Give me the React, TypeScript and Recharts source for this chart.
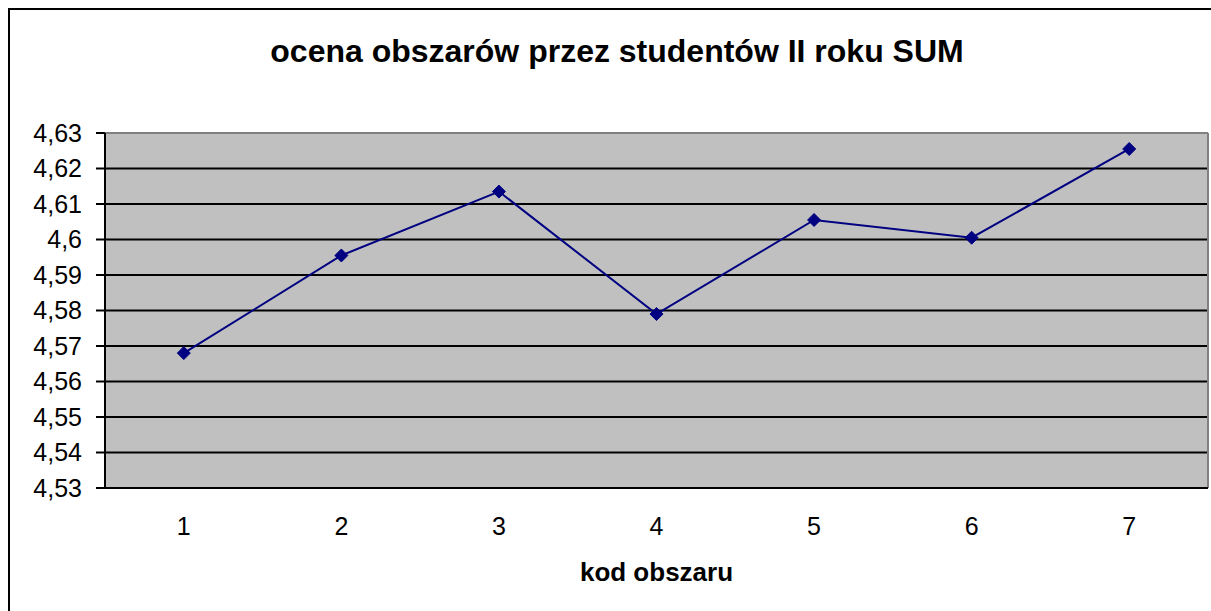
import React from 'react';
import { LineChart, Line, XAxis, YAxis, CartesianGrid } from 'recharts';

const chartTitle = 'ocena obszarów przez studentów II roku SUM';
const xAxisTitle = 'kod obszaru';
const areaCodes = [1, 2, 3, 4, 5, 6, 7];
const scores = [4.568, 4.5955, 4.6135, 4.579, 4.6055, 4.6005, 4.6255];
const yTicks = [4.53, 4.54, 4.55, 4.56, 4.57, 4.58, 4.59, 4.6, 4.61, 4.62, 4.63];
const gridValues = [4.54, 4.55, 4.56, 4.57, 4.58, 4.59, 4.6, 4.61, 4.62];
const boundaryTicks = [0.5, 1.5, 2.5, 3.5, 4.5, 5.5, 6.5, 7.5];

const data = areaCodes.map((kod, i) => ({ kod, ocena: scores[i] }));

const FONT = '"Liberation Sans", Arial, sans-serif';
const fmt = (v: number) => String(v).replace('.', ',');

const Diamond = (props: any) => {
  const { cx, cy } = props;
  if (cx == null || cy == null) return null;
  const r = 6.5;
  return (
    <polygon
      points={`${cx},${cy - r} ${cx + r},${cy} ${cx},${cy + r} ${cx - r},${cy}`}
      fill="#000080"
      stroke="#000080"
      strokeWidth={1}
    />
  );
};

export default function App() {
  return (
    <div style={{ position: 'absolute', left: 0, top: 0, width: 1211, height: 611, overflow: 'hidden', background: '#fff' }}>
      <div
        style={{
          position: 'absolute',
          left: 8,
          top: 8,
          width: 1230,
          height: 630,
          border: '2px solid #000',
          boxSizing: 'border-box',
        }}
      />
      <div style={{ position: 'absolute', left: 0, top: 0 }}>
        <LineChart
          width={1211}
          height={611}
          data={data}
          margin={{ top: 133, right: 3, bottom: 0, left: 0 }}
          style={{ fontFamily: FONT }}
        >
          <CartesianGrid
            xAxisId="main"
            vertical={false}
            horizontalValues={gridValues}
            stroke="#000"
            strokeWidth={2}
            fill="#C0C0C0"
            fillOpacity={1}
          />
          <CartesianGrid
            xAxisId="main"
            horizontalValues={[4.63]}
            verticalValues={[7.5]}
            stroke="#808080"
            strokeWidth={2}
          />
          <XAxis
            xAxisId="b"
            type="number"
            dataKey="kod"
            domain={[0.5, 7.5]}
            ticks={boundaryTicks}
            interval={0}
            tick={false}
            tickLine={{ stroke: '#000', strokeWidth: 2 }}
            tickSize={9}
            axisLine={false}
            height={0}
          />
          <XAxis
            xAxisId="main"
            type="number"
            dataKey="kod"
            domain={[0.5, 7.5]}
            ticks={areaCodes}
            interval={0}
            tickLine={false}
            tickSize={0}
            tickMargin={29}
            axisLine={{ stroke: '#000', strokeWidth: 2 }}
            tick={{ fontSize: 25, fill: '#000', fontFamily: FONT }}
            height={123}
            label={{
              value: xAxisTitle,
              position: 'insideBottom',
              offset: 30,
              fontSize: 26,
              fontWeight: 'bold',
              fill: '#000',
              fontFamily: FONT,
            }}
          />
          <YAxis
            type="number"
            domain={[4.53, 4.63]}
            ticks={yTicks}
            interval={0}
            width={105}
            tickFormatter={fmt}
            tickSize={9}
            tickMargin={14}
            tickLine={{ stroke: '#000', strokeWidth: 2 }}
            axisLine={{ stroke: '#000', strokeWidth: 2 }}
            tick={{ fontSize: 25, fill: '#000', fontFamily: FONT }}
          />
          <Line
            xAxisId="main"
            type="linear"
            dataKey="ocena"
            stroke="#000080"
            strokeWidth={2}
            dot={<Diamond />}
            activeDot={false}
            isAnimationActive={false}
          />
        </LineChart>
      </div>
      <svg style={{ position: 'absolute', left: 0, top: 0 }} width={1211} height={100}>
        <text
          x={617}
          y={62}
          textAnchor="middle"
          fontFamily={FONT}
          fontSize={32}
          fontWeight="bold"
          fill="#000"
        >
          {chartTitle}
        </text>
      </svg>
    </div>
  );
}
